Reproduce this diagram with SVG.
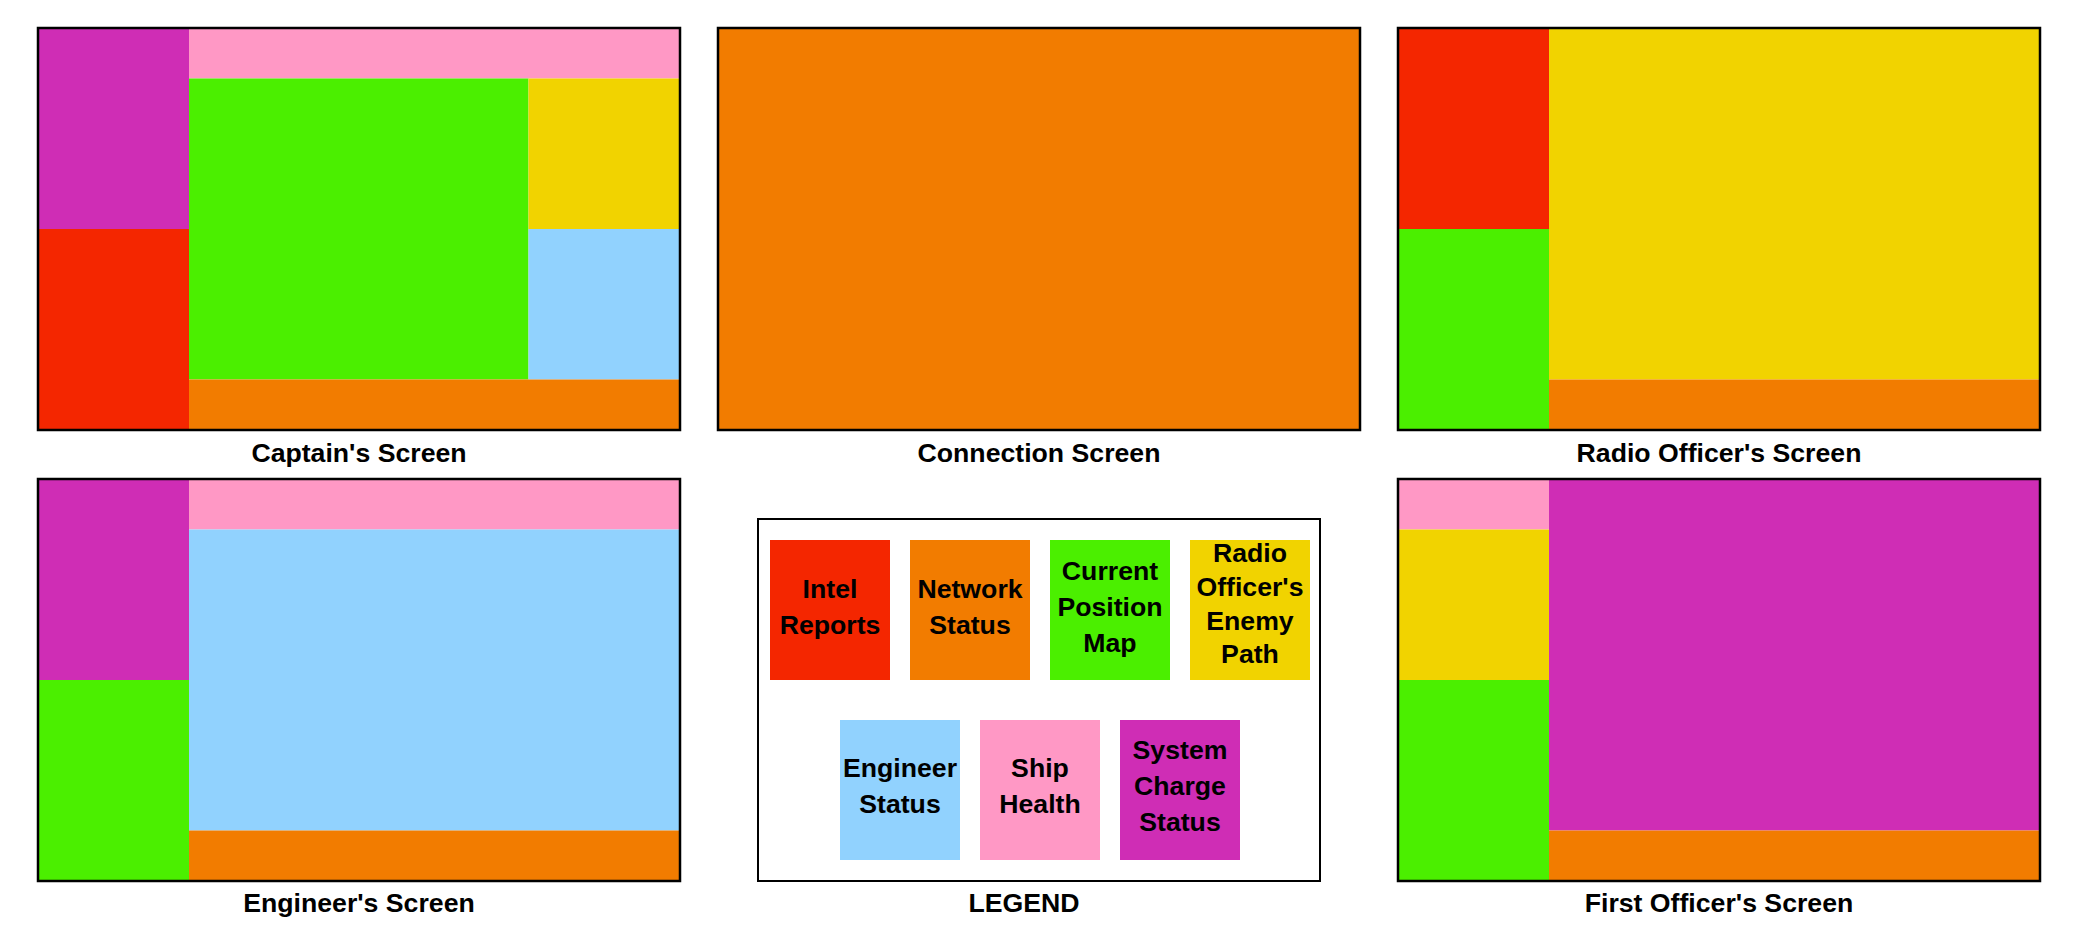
<svg xmlns="http://www.w3.org/2000/svg" width="2080" height="950" viewBox="0 0 2080 950">
<style>
.red{fill:#F42600}.org{fill:#F27C00}.grn{fill:#4BEF00}.yel{fill:#F1D300}.blu{fill:#91D2FE}.pnk{fill:#FF98C5}.mag{fill:#CF2DB5}
.frame{fill:none;stroke:#000;stroke-width:2.5}
.lframe{fill:none;stroke:#000;stroke-width:2}
text{font-family:"Liberation Sans",Arial,sans-serif;font-weight:bold;font-size:26.67px;fill:#000;text-anchor:middle}
</style>
<rect width="2080" height="950" fill="#fff"/>
<g id="captain-screen">
<rect class="mag" x="38" y="28" width="151" height="201"/>
<rect class="red" x="38" y="229" width="151" height="201"/>
<rect class="pnk" x="189" y="28" width="491" height="50.5"/>
<rect class="grn" x="189" y="78.5" width="339.5" height="301"/>
<rect class="yel" x="528.5" y="78.5" width="151.5" height="150.5"/>
<rect class="blu" x="528.5" y="229" width="151.5" height="150.5"/>
<rect class="org" x="189" y="379.5" width="491" height="50.5"/>
<rect class="frame" x="38" y="28" width="642" height="402"/>
<text x="359" y="461.5">Captain's Screen</text>
</g>
<g id="connection-screen">
<rect class="org" x="718" y="28" width="642" height="402"/>
<rect class="frame" x="718" y="28" width="642" height="402"/>
<text x="1039" y="461.5">Connection Screen</text>
</g>
<g id="radio-officer-screen">
<rect class="red" x="1398" y="28" width="151" height="201"/>
<rect class="grn" x="1398" y="229" width="151" height="201"/>
<rect class="yel" x="1549" y="28" width="491" height="351.5"/>
<rect class="org" x="1549" y="379.5" width="491" height="50.5"/>
<rect class="frame" x="1398" y="28" width="642" height="402"/>
<text x="1719" y="461.5">Radio Officer's Screen</text>
</g>
<g id="engineer-screen">
<rect class="mag" x="38" y="479" width="151" height="201"/>
<rect class="grn" x="38" y="680" width="151" height="201"/>
<rect class="pnk" x="189" y="479" width="491" height="50.5"/>
<rect class="blu" x="189" y="529.5" width="491" height="301"/>
<rect class="org" x="189" y="830.5" width="491" height="50.5"/>
<rect class="frame" x="38" y="479" width="642" height="402"/>
<text x="359" y="911.5">Engineer's Screen</text>
</g>
<g id="legend">
<rect class="lframe" x="758" y="519" width="562" height="362"/>
<g id="legend-intel"><rect class="red" x="770" y="540" width="120" height="140"/><text x="830" y="597.5">Intel</text><text x="830" y="633.5">Reports</text></g>
<g id="legend-network"><rect class="org" x="910" y="540" width="120" height="140"/><text x="970" y="597.5">Network</text><text x="970" y="633.5">Status</text></g>
<g id="legend-map"><rect class="grn" x="1050" y="540" width="120" height="140"/><text x="1110" y="579.5">Current</text><text x="1110" y="615.5">Position</text><text x="1110" y="651.5">Map</text></g>
<g id="legend-enemy-path"><rect class="yel" x="1190" y="540" width="120" height="140"/><text x="1250" y="561.5">Radio</text><text x="1250" y="595.5">Officer's</text><text x="1250" y="629.5">Enemy</text><text x="1250" y="663">Path</text></g>
<g id="legend-engineer"><rect class="blu" x="840" y="720" width="120" height="140"/><text x="900" y="777">Engineer</text><text x="900" y="813">Status</text></g>
<g id="legend-ship-health"><rect class="pnk" x="980" y="720" width="120" height="140"/><text x="1040" y="777">Ship</text><text x="1040" y="813">Health</text></g>
<g id="legend-system-charge"><rect class="mag" x="1120" y="720" width="120" height="140"/><text x="1180" y="759">System</text><text x="1180" y="795">Charge</text><text x="1180" y="831">Status</text></g>
<text x="1024" y="911.5">LEGEND</text>
</g>
<g id="first-officer-screen">
<rect class="pnk" x="1398" y="479" width="151" height="50.5"/>
<rect class="yel" x="1398" y="529.5" width="151" height="150.5"/>
<rect class="grn" x="1398" y="680" width="151" height="201"/>
<rect class="mag" x="1549" y="479" width="491" height="351.5"/>
<rect class="org" x="1549" y="830.5" width="491" height="50.5"/>
<rect class="frame" x="1398" y="479" width="642" height="402"/>
<text x="1719" y="911.5">First Officer's Screen</text>
</g>
<g id="connectors"></g>
</svg>
